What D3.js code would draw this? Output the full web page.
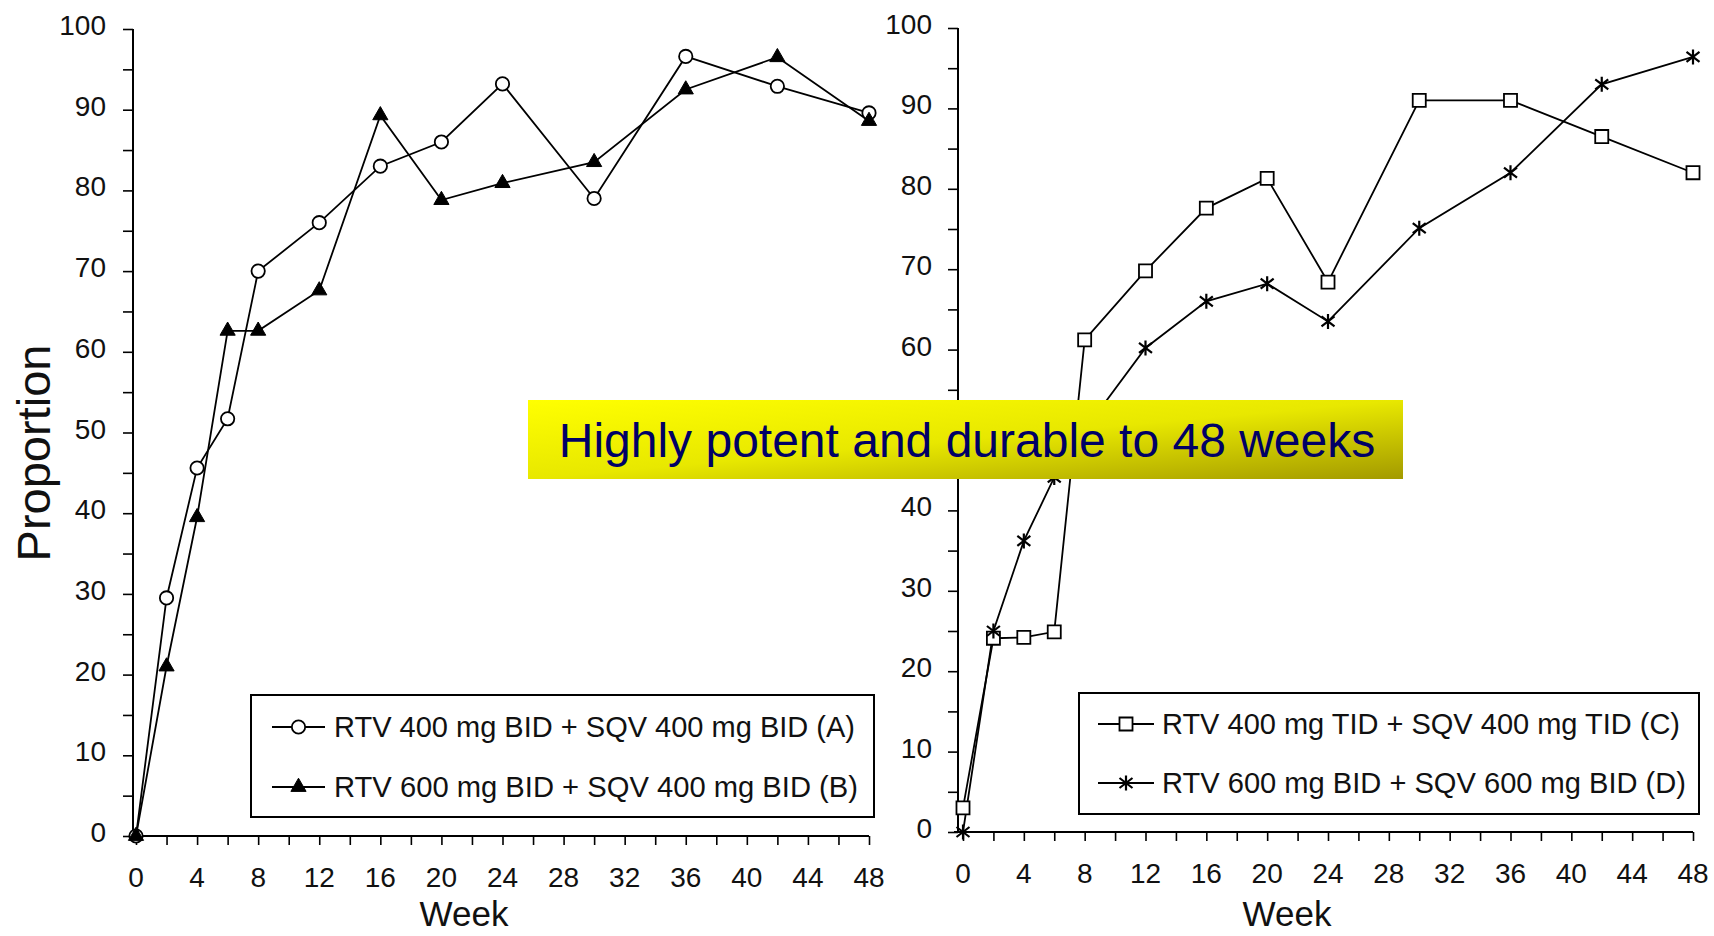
<!DOCTYPE html>
<html><head><meta charset="utf-8">
<script src="https://cdn.jsdelivr.net/npm/d3@7"></script>
<style>
html,body{margin:0;padding:0;background:#fff;}
svg{display:block;font-family:"Liberation Sans",Arial,Helvetica,sans-serif;}
</style></head>
<body>
<script>
// ---- data ----
const weeks = [0, 2, 4, 6, 8, 12, 16, 20, 24, 30, 36, 42, 48];
const seriesA = [0, 29.5, 45.6, 51.7, 70.0, 76.0, 83.0, 86.0, 93.2, 79.0, 96.6, 92.9, 89.6];
const seriesB = [0, 21.0, 39.5, 62.6, 62.6, 67.6, 89.3, 78.8, 80.9, 83.5, 92.5, 96.5, 88.6];
const seriesC = [3.0, 24.1, 24.2, 24.9, 61.2, 69.8, 77.6, 81.3, 68.4, 91.0, 91.0, 86.5, 82.0];
const seriesD = [0, 25.0, 36.2, 44.1, 50.0, 60.2, 66.0, 68.2, 63.5, 75.1, 82.0, 93.0, 96.4];
const labelA = "RTV 400 mg BID + SQV 400 mg BID (A)";
const labelB = "RTV 600 mg BID + SQV 400 mg BID (B)";
const labelC = "RTV 400 mg TID + SQV 400 mg TID (C)";
const labelD = "RTV 600 mg BID + SQV 600 mg BID (D)";
const xTickLabels = [0, 4, 8, 12, 16, 20, 24, 28, 32, 36, 40, 44, 48];
const yTickLabels = [0, 10, 20, 30, 40, 50, 60, 70, 80, 90, 100];
const yAxisTitle = "Proportion";
const xAxisTitle = "Week";
const bannerText = "Highly potent and durable to 48 weeks";

const W = 1714, H = 936;
const svg = d3.select("body").append("svg").attr("width", W).attr("height", H);

// gradient for banner
const defs = svg.append("defs");
const grad = defs.append("linearGradient").attr("id", "bg").attr("x1", 0).attr("y1", 0).attr("x2", 1).attr("y2", 1);
grad.append("stop").attr("offset", 0).attr("stop-color", "#ffff00");
grad.append("stop").attr("offset", 0.5).attr("stop-color", "#e8e800");
grad.append("stop").attr("offset", 1).attr("stop-color", "#a39a00");

const asteriskPath = "M0,-7.5L0,7.5M-6.5,-5L6.5,5M-6.5,5L6.5,-5";

function marker(g, type, x, y) {
  if (type === "circle") {
    g.append("path").attr("transform", `translate(${x},${y})`)
      .attr("d", d3.symbol(d3.symbolCircle, 140)()).attr("fill", "#fff").attr("stroke", "#000").attr("stroke-width", 1.8);
  } else if (type === "triangle") {
    g.append("path").attr("transform", `translate(${x},${y})`)
      .attr("d", d3.symbol(d3.symbolTriangle, 100)()).attr("fill", "#000").attr("stroke", "#000").attr("stroke-width", 1);
  } else if (type === "square") {
    g.append("path").attr("transform", `translate(${x},${y})`)
      .attr("d", d3.symbol(d3.symbolSquare, 170)()).attr("fill", "#fff").attr("stroke", "#000").attr("stroke-width", 1.8);
  } else if (type === "asterisk") {
    g.append("path").attr("transform", `translate(${x},${y})`)
      .attr("d", asteriskPath).attr("fill", "none").attr("stroke", "#000").attr("stroke-width", 2.2);
  }
}

function panel(opt) {
  const g = svg.append("g");
  const x = d3.scaleLinear().domain([0, 48]).range(opt.xr);
  const y = d3.scaleLinear().domain([0, 100]).range(opt.yr);

  // axes lines
  g.append("line").attr("x1", opt.axisX).attr("x2", opt.axisX).attr("y1", y(100)).attr("y2", y(0))
    .attr("stroke", "#000").attr("stroke-width", 2);
  g.append("line").attr("x1", opt.axisX - 4).attr("x2", x(48)).attr("y1", y(0)).attr("y2", y(0))
    .attr("stroke", "#000").attr("stroke-width", 2);

  // y axis ticks via d3 axis
  const yAxis = d3.axisLeft(y).tickValues(d3.range(0, 101, 5)).tickSize(10).tickFormat(() => "");
  const ya = g.append("g").attr("transform", `translate(${opt.axisX},0)`).call(yAxis);
  ya.select(".domain").remove();
  ya.selectAll(".tick line").attr("stroke", "#000").attr("stroke-width", 1.6);
  // y labels (those hidden by the banner in the reference are still drawn underneath it)
  g.selectAll(".ylab").data(yTickLabels).enter().append("text")
    .attr("x", opt.ylabX).attr("y", d => y(d) - 4).attr("dy", "0.36em")
    .attr("text-anchor", "end").attr("font-size", 28).attr("fill", "#111").text(d => d);

  // x axis ticks
  const xAxis = d3.axisBottom(x).tickValues(d3.range(0, 49, 2)).tickSize(9).tickFormat(() => "");
  const xa = g.append("g").attr("transform", `translate(0,${y(0)})`).call(xAxis);
  xa.select(".domain").remove();
  xa.selectAll(".tick line").attr("stroke", "#000").attr("stroke-width", 1.6);
  g.selectAll(".xlab").data(xTickLabels).enter().append("text")
    .attr("x", d => x(d)).attr("y", y(0) + 51)
    .attr("text-anchor", "middle").attr("font-size", 28).attr("fill", "#111").text(d => d);

  // axis title
  g.append("text").attr("x", opt.weekX).attr("y", opt.weekY).attr("text-anchor", "middle")
    .attr("font-size", 35).attr("fill", "#111").text(xAxisTitle);

  // series
  const line = d3.line().x((d, i) => x(weeks[i])).y(d => y(d));
  opt.series.forEach(s => {
    g.append("path").attr("d", line(s.values)).attr("fill", "none").attr("stroke", "#000").attr("stroke-width", 1.8);
  });
  opt.series.forEach(s => {
    s.values.forEach((v, i) => marker(g, s.type, x(weeks[i]), y(v)));
  });

  // legend
  const L = opt.legend;
  g.append("rect").attr("x", L.x).attr("y", L.y).attr("width", L.w).attr("height", L.h)
    .attr("fill", "#fff").attr("stroke", "#000").attr("stroke-width", 2);
  opt.series.forEach((s, i) => {
    const ry = L.rows[i];
    g.append("line").attr("x1", L.lx1).attr("x2", L.lx2).attr("y1", ry).attr("y2", ry)
      .attr("stroke", "#000").attr("stroke-width", 1.8);
    marker(g, s.type, (L.lx1 + L.lx2) / 2, ry);
    g.append("text").attr("x", L.tx).attr("y", ry + 10).attr("font-size", 29).attr("fill", "#111")
      .attr("textLength", L.tw[i]).attr("lengthAdjust", "spacingAndGlyphs").text(s.label);
  });
  return g;
}

panel({
  xr: [136, 869], yr: [836, 29], axisX: 133, ylabX: 106, weekX: 464, weekY: 926,
  series: [{values: seriesA, type: "circle", label: labelA}, {values: seriesB, type: "triangle", label: labelB}],
  legend: {x: 251, y: 695, w: 623, h: 122, rows: [727, 787], lx1: 272, lx2: 325, tx: 334, tw: [521, 524]}
});
panel({
  xr: [963, 1693], yr: [832, 28], axisX: 958, ylabX: 932, weekX: 1287, weekY: 926,
  series: [{values: seriesC, type: "square", label: labelC}, {values: seriesD, type: "asterisk", label: labelD}],
  legend: {x: 1079, y: 693, w: 620, h: 121, rows: [724, 783], lx1: 1098, lx2: 1154, tx: 1162, tw: [518, 524]}
});

// Proportion title
svg.append("text").attr("transform", "translate(50,453) rotate(-90)").attr("text-anchor", "middle")
  .attr("font-size", 47).attr("fill", "#111").text(yAxisTitle);

// banner
svg.append("rect").attr("x", 528).attr("y", 400).attr("width", 875).attr("height", 79).attr("fill", "url(#bg)");
svg.append("text").attr("x", 967).attr("y", 457).attr("text-anchor", "middle").attr("font-size", 48)
  .attr("fill", "#000066").text(bannerText);
</script>
</body></html>
